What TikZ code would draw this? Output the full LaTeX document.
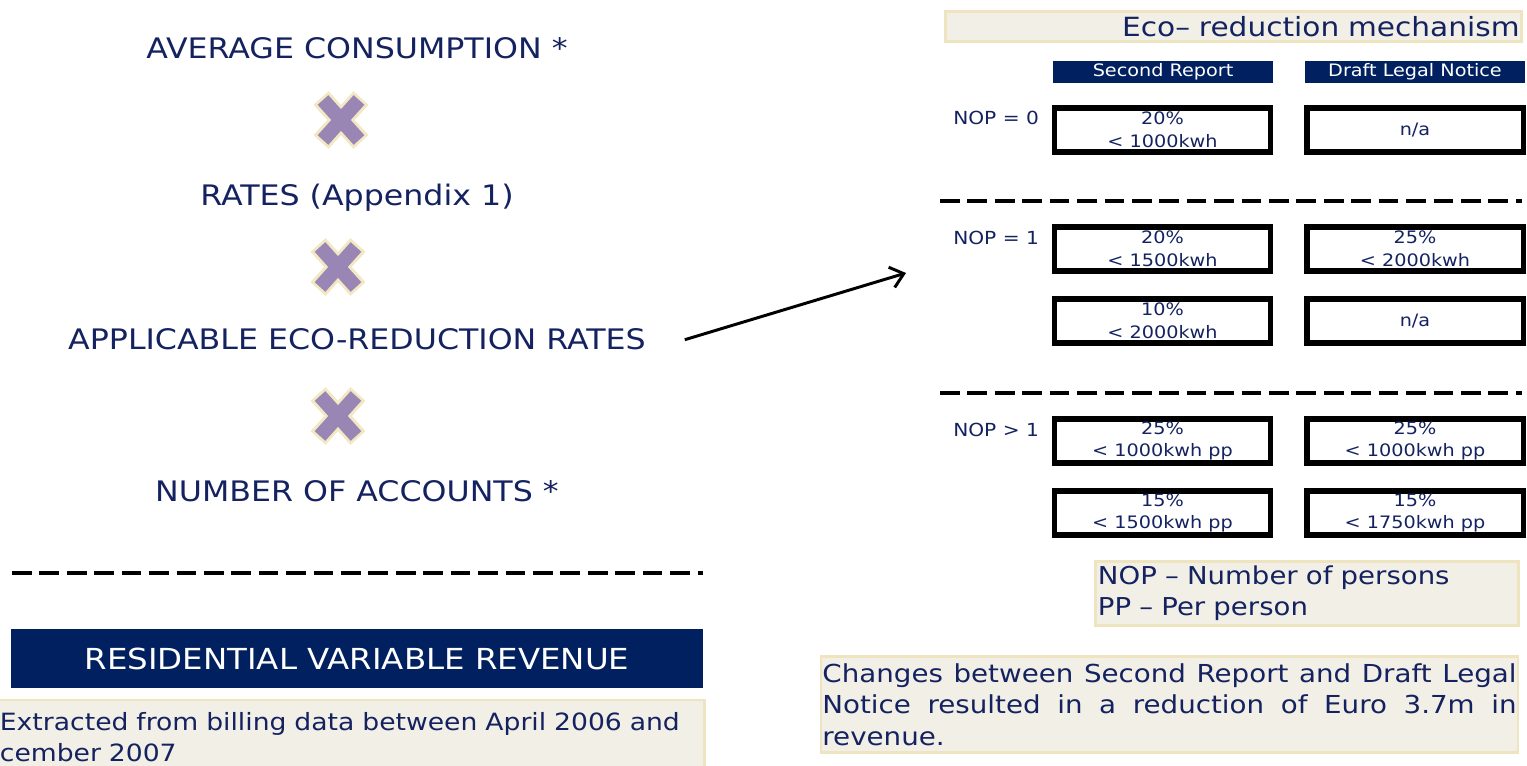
\documentclass[tikz,border=0pt]{standalone}
\usepackage{fontspec}
\setmainfont{DejaVu Sans}
\newfontfamily\widefont{DejaVu Sans}[FakeStretch=1.12]
\usetikzlibrary{positioning, arrows.meta}

\definecolor{navytext}{RGB}{20,34,96}
\definecolor{navyfill}{RGB}{0,32,96}
\definecolor{notefill}{RGB}{242,239,230}
\definecolor{noteline}{RGB}{238,228,192}
\definecolor{crossfill}{RGB}{154,134,180}
\definecolor{crossline}{RGB}{243,232,196}

\hyphenpenalty=10000
\exhyphenpenalty=10000

\tikzset{
  bigcaps/.style={font=\widefont\fontsize{20.1}{22}\selectfont, text=navytext, anchor=base},
  ratebox/.style={draw=black, line width=3.6pt, minimum width=5.4cm, minimum height=1.1cm,
    align=center, inner sep=0pt, text=navytext, font=\widefont\fontsize{12.2}{16.2}\selectfont},
  colhead/.style={fill=navyfill, text=white, minimum width=5.5cm, minimum height=0.55cm,
    inner sep=0pt, font=\widefont\fontsize{12.2}{13}\selectfont},
  nopname/.style={anchor=west, inner sep=0pt, text=navytext, font=\widefont\fontsize{12.8}{14}\selectfont},
  notebox/.style={fill=notefill, draw=noteline, line width=2pt, text=navytext},
  sepline/.style={line width=2.8pt, dash pattern=on 14pt off 5.5pt},
}

\begin{document}
\begin{tikzpicture}[x=0.025cm, y=-0.025cm]
\useasboundingbox (0,0) rectangle (1527,766);

% left column: the product
\node[bigcaps] (avg) at (357,59) {AVERAGE CONSUMPTION *};
\node[bigcaps] (rates) at (357,206) {RATES (Appendix 1)};
\node[bigcaps] (appl) at (357,350) {APPLICABLE ECO-REDUCTION RATES};
\node[bigcaps] (accounts) at (357,502) {NUMBER OF ACCOUNTS *};

% the three multiplication marks
\foreach \cx/\cy in {341/120, 338/267, 338/416} {
  \draw[crossline, line width=14.5pt] (\cx-20,\cy-22) -- (\cx+20,\cy+22);
  \draw[crossline, line width=14.5pt] (\cx+20,\cy-22) -- (\cx-20,\cy+22);
  \draw[crossfill, line width=10.2pt] (\cx-18,\cy-20) -- (\cx+18,\cy+20);
  \draw[crossfill, line width=10.2pt] (\cx+18,\cy-20) -- (\cx-18,\cy+20);
}

\draw[sepline] (12,573) -- (703,573);

\node[fill=navyfill, minimum width=17.3cm, minimum height=1.475cm, inner sep=0pt, text=white,
  font=\widefont\fontsize{20.6}{22}\selectfont] (revenue) at (357,658.5) {RESIDENTIAL VARIABLE REVENUE};
\node[notebox, minimum width=17.675cm, minimum height=1.85cm, text width=17.475cm, align=left,
  inner xsep=4pt, font=\widefont\fontsize{16.9}{21.8}\selectfont] (source) at (349.5,737)
  {Extracted from billing data between April 2006 and\\cember 2007};

% right column: eco-reduction table
\node[notebox, minimum width=14.4cm, minimum height=0.75cm, text width=14.3cm, align=right,
  inner xsep=1pt, font=\widefont\fontsize{18.8}{20}\selectfont] (mech) at (1233.5,26.5) {Eco– reduction mechanism};

\node[colhead] (second) at (1163,72) {Second Report};
\node[colhead] (draft) at (1415,72) {Draft Legal Notice};

\node[nopname] (nop0) at (953,118) {NOP = 0};
\node[ratebox] (s0) at (1162.5,130) {20\%\\< 1000kwh};
\node[ratebox] (d0) at (1415,130) {n/a};

\draw[sepline] (940,201) -- (1522,201);

\node[nopname] (nop1) at (953,238) {NOP = 1};
\node[ratebox] (s1a) at (1162.5,249) {20\%\\< 1500kwh};
\node[ratebox] (d1a) at (1415,249) {25\%\\< 2000kwh};
\node[ratebox] (s1b) at (1162.5,321) {10\%\\< 2000kwh};
\node[ratebox] (d1b) at (1415,321) {n/a};

\draw[sepline] (940,393) -- (1522,393);

\node[nopname] (nop2) at (953,430) {NOP > 1};
\node[ratebox] (s2a) at (1162.5,441) {25\%\\< 1000kwh pp};
\node[ratebox] (d2a) at (1415,441) {25\%\\< 1000kwh pp};
\node[ratebox] (s2b) at (1162.5,513) {15\%\\< 1500kwh pp};
\node[ratebox] (d2b) at (1415,513) {15\%\\< 1750kwh pp};

\node[notebox, minimum width=10.55cm, minimum height=1.58cm, text width=10.45cm, align=left,
  inner xsep=2pt, font=\widefont\fontsize{17.5}{21.8}\selectfont] (legend) at (1307,593.5)
  {NOP – Number of persons\\PP – Per person};

\node[notebox, minimum width=17.4cm, minimum height=2.4cm, text width=17.35cm, align=justify,
  inner xsep=1pt, font=\widefont\fontsize{17.6}{22.5}\selectfont] (changes) at (1169.5,704.5)
  {Changes between Second Report and Draft Legal Notice resulted in a reduction of Euro 3.7m in revenue.};

% arrow into the table
\coordinate (arrend) at (906,273);
\draw[line width=2.1pt, -{Straight Barb[length=9pt,width=15pt]}] ([xshift=0.85cm]appl.east) -- (arrend);
\end{tikzpicture}
\end{document}
